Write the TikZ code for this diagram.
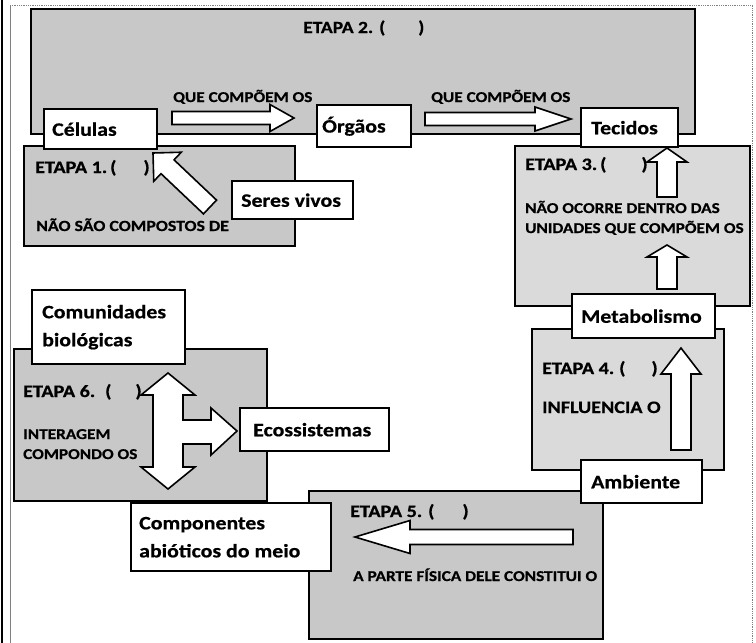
\documentclass[tikz,border=0pt]{standalone}
\usepackage{fontspec}
\setmainfont{Carlito}[FakeStretch=1.15, BoldFeatures={FakeBold=0.6}]
\usetikzlibrary{calc}
\definecolor{stagegray}{RGB}{200,200,200}
\definecolor{stagelight}{RGB}{218,218,218}
\newcommand{\blockarrow}[5]{%
  \coordinate (ba-m) at ($(#2)!#5pt!(#1)$);
  \draw[blk] ($(#1)!#3pt!90:(#2)$) -- ($(ba-m)!#3pt!90:(#2)$) -- ($(ba-m)!#4pt!90:(#2)$) -- (#2)
    -- ($(ba-m)!#4pt!-90:(#2)$) -- ($(ba-m)!#3pt!-90:(#2)$) -- ($(#1)!#3pt!-90:(#2)$) -- cycle;
}
\newcommand{\etapa}[3]{\makebox[#2pt][l]{ETAPA #1.}(\hspace{#3pt})}
\newcommand{\wtext}[3]{\makebox[#1pt][l]{\hspace{#2pt}#3}}
\begin{document}
\begin{tikzpicture}[x=1pt,y=-1pt,
  stage/.style={draw, line width=2.4pt, fill=stagegray, anchor=north west, inner sep=0pt},
  wbox/.style={draw, line width=2.4pt, fill=white, anchor=north west, inner xsep=0pt, inner ysep=0pt,
    align=flush left, font=\fontsize{19}{28}\selectfont\bfseries},
  etp/.style={anchor=base west, inner sep=0pt, font=\fontsize{17.5}{20}\selectfont\bfseries},
  lbl/.style={anchor=base west, inner sep=0pt, align=flush left, font=\fontsize{15}{20}\selectfont\bfseries},
  blk/.style={draw, fill=white, line width=1.6pt, line join=miter}]
\useasboundingbox (0,0) rectangle (756,643);
% outer frame
\draw[line width=2.5pt] (2,0) -- (2,643);
\draw[gray, line width=1pt] (10,5) -- (10,643);
\draw[gray, densely dotted, line width=0.8pt] (10,5) -- (752,5) -- (752,643);

% stage boxes
\node[stage, minimum width=664pt, minimum height=125pt] (e2) at (30,8) {};
\node[stage, minimum width=271pt, minimum height=100pt] (e1) at (23,145) {};
\node[stage, fill=stagelight, minimum width=235pt, minimum height=160pt] (e3) at (514,145) {};
\node[stage, fill=stagelight, minimum width=192pt, minimum height=141pt] (e4) at (531,328) {};
\node[stage, minimum width=294pt, minimum height=148pt] (e5) at (308,490) {};
\node[stage, minimum width=253pt, minimum height=152pt] (e6) at (13,348) {};

% white boxes
\node[wbox, minimum height=40pt] (cel) at (43,108) {\wtext{113}{8}{Células}};
\node[wbox, minimum height=42pt] (org) at (316,104) {\wtext{94}{5}{Órgãos}};
\node[wbox, minimum height=39pt] (tec) at (580,107) {\wtext{97}{10}{Tecidos}};
\node[wbox, minimum height=38pt] (ser) at (231,180) {\wtext{121}{9}{Seres vivos}};
\node[wbox, minimum height=44pt] (met) at (571,293) {\wtext{143}{9}{Metabolismo}};
\node[wbox, minimum height=43pt] (amb) at (580,459) {\wtext{121}{10}{Ambiente}};
\node[wbox, minimum height=43pt] (eco) at (239,407) {\wtext{149}{13}{Ecossistemas}};
\node[wbox, inner xsep=10pt, text width=133pt, minimum height=74pt] (com) at (31,289) {Comunidades\\biológicas};
\node[wbox, inner xsep=8pt, text width=184pt, minimum height=68pt] (cpt) at (130,502) {Componentes\\abióticos do meio};

% block arrows
\coordinate (a1s) at (172,118); \coordinate (a1e) at (294,118);
\blockarrow{a1s}{a1e}{6.5}{13.5}{24}
\coordinate (a2s) at (425,119); \coordinate (a2e) at (571,119);
\blockarrow{a2s}{a2e}{6.5}{12}{36}
\coordinate (a3s) at (210,207); \coordinate (a3e) at (153,153);
\blockarrow{a3s}{a3e}{9.5}{20}{20}
\coordinate (a4s) at (667,197); \coordinate (a4e) at (667,148);
\blockarrow{a4s}{a4e}{10}{20}{14}
\coordinate (a5s) at (667,289); \coordinate (a5e) at (667,245);
\blockarrow{a5s}{a5e}{10}{20}{12}
\coordinate (a6s) at (681,450); \coordinate (a6e) at (681,348);
\blockarrow{a6s}{a6e}{10}{20}{26}
\coordinate (a7s) at (573,537); \coordinate (a7e) at (355,537);
\blockarrow{a7s}{a7e}{7.5}{16.5}{55}

% T-shaped arrow
\coordinate (tc) at (168,431);
\draw[blk] ($(tc)+(0,-58)$) -- ++(27,22) -- ++(-12,0) -- ++(0,25) -- ++(28,0) -- ++(0,-12)
  -- ++(26,23) -- ++(-26,24) -- ++(0,-11) -- ++(-28,0) -- ++(0,23) -- ++(12,0)
  -- ++(-27,22) -- ++(-27,-22) -- ++(12,0) -- ++(0,-72) -- ++(-12,0) -- cycle;

% stage labels
\node[etp, font=\fontsize{17}{20}\selectfont\bfseries] (t2) at (303,33) {\etapa{2}{76}{33}};
\node[etp] (t1) at (35,173) {\etapa{1}{75}{27}};
\node[etp] (t3) at (525,170) {\etapa{3}{75}{35}};
\node[etp] (t4) at (542,374) {\etapa{4}{77}{26}};
\node[etp] (t5) at (350,517) {\etapa{5}{78}{28}};
\node[etp] (t6) at (23,397) {\etapa{6}{82}{24}};

\node[lbl, font=\fontsize{15.5}{20}\selectfont\bfseries] (l1) at (36,231) {NÃO SÃO COMPOSTOS DE};
\node[lbl] (l3) at (525,233) {NÃO OCORRE DENTRO DAS\\UNIDADES QUE COMPÕEM OS};
\node[lbl, font=\fontsize{17.5}{20}\selectfont\bfseries] (l4) at (542,413) {INFLUENCIA O};
\node[lbl] (l5) at (353,581) {A PARTE FÍSICA DELE CONSTITUI O};
\node[lbl] (l6) at (23,459) {INTERAGEM\\COMPONDO OS};
\node[lbl] (q1) at (173,102) {QUE COMPÕEM OS};
\node[lbl] (q2) at (431,102) {QUE COMPÕEM OS};
\end{tikzpicture}
\end{document}
